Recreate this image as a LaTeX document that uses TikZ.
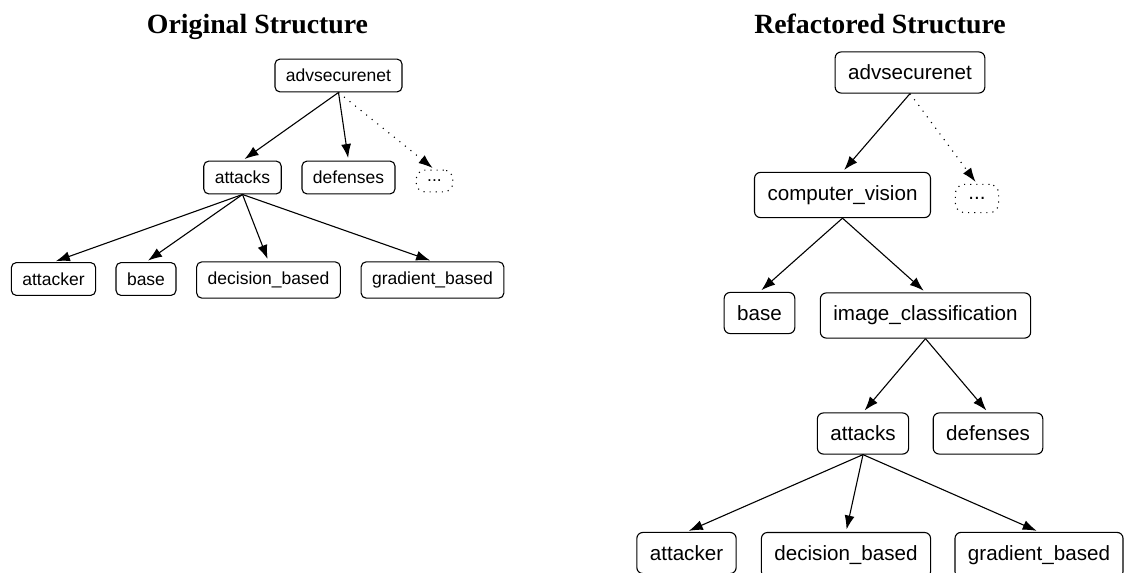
\documentclass[tikz,border=0pt]{standalone}
\usepackage{fontspec}
\setmainfont{Liberation Sans}
\newfontfamily\titlefont{Liberation Serif}
\usetikzlibrary{arrows.meta}
\begin{document}
\begin{tikzpicture}[x=1pt,y=-1pt,
  title/.style={anchor=base, inner sep=0pt, font=\titlefont\bfseries\fontsize{27.8}{32}\selectfont},
  pkg/.style={draw, rounded corners=5pt, line width=1.1pt, inner xsep=11pt, inner ysep=10pt,
    font=\fontsize{17.5}{20}\selectfont},
  bigpkg/.style={pkg, rounded corners=6pt, inner xsep=13pt, inner ysep=13pt,
    font=\fontsize{20.6}{24}\selectfont},
  more/.style={line width=1.1pt, rounded corners=9pt, dash pattern=on 1.1pt off 5pt},
  link/.style={line width=1.1pt, shorten >=2.5pt, -{Latex[length=14pt,width=10pt]}},
  morelink/.style={link, dash pattern=on 1.1pt off 6pt},
]
\useasboundingbox (0,0) rectangle (1125,573);

% ---- original layout ----
\node[title] (t1) at (257.5,33) {Original Structure};
\node[pkg] (a1) at (338.5,75.5) {advsecurenet};
\node[pkg] (at1) at (242.5,177.5) {attacks};
\node[pkg] (df1) at (348.5,177.5) {defenses};
\node[pkg, more] (m1) at (434.5,181) {...};
\node[pkg] (ak1) at (53.5,279) {attacker};
\node[pkg] (bs1) at (146,279) {base};
\node[pkg] (db1) at (268.5,280) {decision\_based};
\node[pkg] (gb1) at (432.5,280) {gradient\_based};

\draw[link] (a1.south) -- (at1.north);
\draw[link] (a1.south) -- (df1.north);
\draw[morelink] (a1.south) -- (m1.north);
\draw[link] (at1.south) -- (ak1.north);
\draw[link] (at1.south) -- (bs1.north);
\draw[link] (at1.south) -- (db1.north);
\draw[link] (at1.south) -- (gb1.north);

% ---- refactored layout ----
\node[title] (t2) at (880,33) {Refactored Structure};
\node[bigpkg] (a2) at (910,72.5) {advsecurenet};
\node[bigpkg] (cv2) at (842.5,195) {computer\_vision};
\node[bigpkg, more] (m2) at (977,198.5) {...};
\node[bigpkg] (bs2) at (759.5,313) {base};
\node[bigpkg] (ic2) at (925.5,315.5) {image\_classification};
\node[bigpkg] (at2) at (863,433.5) {attacks};
\node[bigpkg] (df2) at (988,433.5) {defenses};
\node[bigpkg] (ak2) at (686.5,553) {attacker};
\node[bigpkg] (db2) at (846,555) {decision\_based};
\node[bigpkg] (gb2) at (1039,555) {gradient\_based};

\draw[link] (a2.south) -- (cv2.north);
\draw[morelink] (a2.south) -- (m2.north);
\draw[link] (cv2.south) -- (bs2.north);
\draw[link] (cv2.south) -- (ic2.north);
\draw[link] (ic2.south) -- (at2.north);
\draw[link] (ic2.south) -- (df2.north);
\draw[link] (at2.south) -- (ak2.north);
\draw[link] (at2.south) -- (db2.north);
\draw[link] (at2.south) -- (gb2.north);
\end{tikzpicture}
\end{document}
